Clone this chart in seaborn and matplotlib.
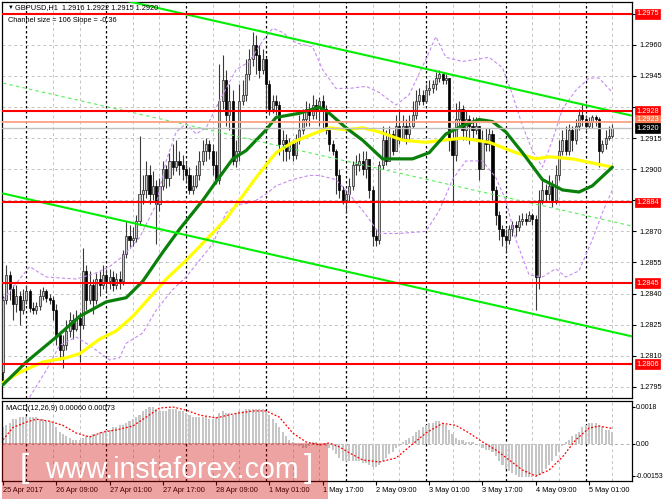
import numpy as np
import matplotlib
matplotlib.use("Agg")
import matplotlib.pyplot as plt
import matplotlib.transforms as mtransforms
from matplotlib.patches import Rectangle
import seaborn as sns

# ---------------- data ----------------
first_open = 1.2802
closes = [1.2837, 1.2849, 1.2842, 1.2835, 1.2839, 1.2832, 1.2837, 1.2841, 1.2833, 1.2832,
          1.2834, 1.2839, 1.2841, 1.2838, 1.2837, 1.2832, 1.2820, 1.2813, 1.2815, 1.2822,
          1.2827, 1.2823, 1.2828, 1.2825, 1.2851, 1.2837, 1.2844, 1.2837, 1.2847, 1.2844,
          1.2849, 1.2846, 1.2848, 1.2844, 1.2847, 1.2846, 1.2859, 1.2868, 1.2866, 1.2867,
          1.2875, 1.2888, 1.2890, 1.2897, 1.2888, 1.2892, 1.2883, 1.2892, 1.2900, 1.2896,
          1.2904, 1.2901, 1.2904, 1.2902, 1.2900, 1.2897, 1.2890, 1.2892, 1.2897, 1.2904,
          1.2909, 1.2912, 1.2909, 1.2902, 1.2895, 1.2933, 1.2943, 1.2926, 1.2933, 1.2904,
          1.2909, 1.2933, 1.2936, 1.2946, 1.2953, 1.2960, 1.2955, 1.2948, 1.2953, 1.2941,
          1.2929, 1.2933, 1.2931, 1.2912, 1.2914, 1.2909, 1.2912, 1.2907, 1.2914, 1.2919,
          1.2924, 1.2929, 1.2926, 1.2931, 1.2928, 1.2933, 1.2929, 1.2919, 1.2912, 1.2909,
          1.2897, 1.2890, 1.2885, 1.2888, 1.2892, 1.2902, 1.2902, 1.2904, 1.2900, 1.2905,
          1.2890, 1.2868, 1.2866, 1.2902, 1.2914, 1.2904, 1.2917, 1.2909, 1.2921, 1.2914,
          1.2921, 1.2917, 1.2921, 1.2926, 1.2933, 1.2936, 1.2933, 1.2938, 1.2939, 1.2941,
          1.2944, 1.2946, 1.2943, 1.2944, 1.2914, 1.2907, 1.2924, 1.2929, 1.2919, 1.2924,
          1.2921, 1.2919, 1.2921, 1.2900, 1.2914, 1.2912, 1.2917, 1.2890, 1.2878, 1.2871,
          1.2868, 1.2866, 1.2871, 1.2873, 1.2872, 1.2875, 1.2876, 1.2875, 1.2878, 1.2876,
          1.2848, 1.2885, 1.2890, 1.2888, 1.2892, 1.2885, 1.2897, 1.2909, 1.2914, 1.2909,
          1.2919, 1.2914, 1.2921, 1.2926, 1.2924, 1.2921, 1.2923, 1.2925, 1.2924, 1.2909,
          1.2912, 1.2915, 1.2916, 1.2920]
highs = [1.2839, 1.2854, 1.2851, 1.2844, 1.2844, 1.2841, 1.2842, 1.2844, 1.2842, 1.2836,
         1.2836, 1.2842, 1.2843, 1.2842, 1.2840, 1.2839, 1.2835, 1.2822, 1.2820, 1.2827,
         1.2831, 1.2830, 1.2832, 1.2831, 1.2862, 1.2854, 1.2851, 1.2847, 1.2850, 1.2851,
         1.2854, 1.2852, 1.2852, 1.2851, 1.2850, 1.2851, 1.2861, 1.2875, 1.2873, 1.2872,
         1.2878, 1.2916, 1.2897, 1.2904, 1.2902, 1.2899, 1.2895, 1.2896, 1.2904, 1.2902,
         1.2908, 1.2912, 1.2914, 1.2909, 1.2907, 1.2904, 1.2901, 1.2897, 1.2902, 1.2909,
         1.2914, 1.2915, 1.2914, 1.2912, 1.2909, 1.2951, 1.2955, 1.2948, 1.2941, 1.2938,
         1.2914, 1.2941, 1.2943, 1.2953, 1.2958, 1.2966, 1.2965, 1.2960, 1.2958, 1.2954,
         1.2943, 1.2936, 1.2936, 1.2933, 1.2919, 1.2917, 1.2915, 1.2914, 1.2917, 1.2926,
         1.2929, 1.2933, 1.2932, 1.2936, 1.2934, 1.2935, 1.2936, 1.2931, 1.2919, 1.2914,
         1.2910, 1.2900, 1.2892, 1.2890, 1.2896, 1.2904, 1.2907, 1.2908, 1.2909, 1.2909,
         1.2904, 1.2892, 1.2871, 1.2904, 1.2921, 1.2919, 1.2921, 1.2919, 1.2926, 1.2929,
         1.2926, 1.2924, 1.2926, 1.2933, 1.2938, 1.2939, 1.2938, 1.2941, 1.2943, 1.2943,
         1.2947, 1.2948, 1.2947, 1.2946, 1.2944, 1.2919, 1.2932, 1.2933, 1.2931, 1.2928,
         1.2926, 1.2925, 1.2925, 1.2921, 1.2919, 1.2920, 1.2920, 1.2919, 1.2892, 1.2880,
         1.2873, 1.2871, 1.2873, 1.2875, 1.2875, 1.2878, 1.2879, 1.2879, 1.2880, 1.2879,
         1.2878, 1.2890, 1.2896, 1.2893, 1.2897, 1.2895, 1.2902, 1.2914, 1.2919, 1.2921,
         1.2922, 1.2921, 1.2924, 1.2929, 1.2932, 1.2926, 1.2925, 1.2926, 1.2926, 1.2925,
         1.2914, 1.2919, 1.2921, 1.2922]
lows = [1.2798, 1.2835, 1.2837, 1.2827, 1.2831, 1.2825, 1.2830, 1.2835, 1.2831, 1.2830,
        1.2830, 1.2832, 1.2837, 1.2836, 1.2835, 1.2827, 1.2815, 1.2808, 1.2804, 1.2813,
        1.2819, 1.2818, 1.2822, 1.2807, 1.2823, 1.2832, 1.2835, 1.2830, 1.2835, 1.2839,
        1.2842, 1.2841, 1.2842, 1.2841, 1.2842, 1.2842, 1.2844, 1.2857, 1.2862, 1.2863,
        1.2865, 1.2873, 1.2883, 1.2886, 1.2883, 1.2885, 1.2864, 1.2880, 1.2890, 1.2891,
        1.2892, 1.2897, 1.2899, 1.2897, 1.2895, 1.2894, 1.2888, 1.2888, 1.2891, 1.2895,
        1.2902, 1.2904, 1.2905, 1.2897, 1.2893, 1.2893, 1.2929, 1.2921, 1.2919, 1.2902,
        1.2901, 1.2904, 1.2931, 1.2933, 1.2943, 1.2950, 1.2946, 1.2944, 1.2946, 1.2929,
        1.2926, 1.2927, 1.2926, 1.2907, 1.2904, 1.2904, 1.2905, 1.2904, 1.2905, 1.2912,
        1.2917, 1.2921, 1.2921, 1.2924, 1.2924, 1.2921, 1.2919, 1.2917, 1.2909, 1.2907,
        1.2888, 1.2886, 1.2883, 1.2879, 1.2884, 1.2890, 1.2897, 1.2899, 1.2897, 1.2896,
        1.2886, 1.2863, 1.2863, 1.2864, 1.2900, 1.2902, 1.2904, 1.2907, 1.2909, 1.2912,
        1.2914, 1.2912, 1.2914, 1.2920, 1.2924, 1.2931, 1.2931, 1.2932, 1.2936, 1.2937,
        1.2938, 1.2942, 1.2941, 1.2941, 1.2909, 1.2884, 1.2904, 1.2921, 1.2914, 1.2914,
        1.2912, 1.2915, 1.2917, 1.2895, 1.2900, 1.2909, 1.2909, 1.2885, 1.2873, 1.2866,
        1.2863, 1.2860, 1.2864, 1.2868, 1.2868, 1.2870, 1.2873, 1.2873, 1.2875, 1.2873,
        1.2832, 1.2842, 1.2883, 1.2884, 1.2885, 1.2882, 1.2883, 1.2895, 1.2907, 1.2907,
        1.2907, 1.2909, 1.2912, 1.2919, 1.2921, 1.2919, 1.2920, 1.2920, 1.2921, 1.2901,
        1.2908, 1.2910, 1.2914, 1.2915]

# moving averages (bar index, price)
green_ma_x = [0, 7, 16, 23, 31, 37, 42, 48, 53, 60, 64, 69, 73, 79, 82, 89, 95, 98, 103, 108,
              114, 123, 128, 133, 138, 143, 147, 151, 156, 162, 168, 173, 177, 183]
green_ma = [1.2796, 1.2807, 1.2819, 1.2829, 1.2836, 1.2838, 1.2846, 1.2860, 1.2871, 1.2885,
            1.2894, 1.2905, 1.2909, 1.2919, 1.2925, 1.2927, 1.2930, 1.2927, 1.2920, 1.2914,
            1.2905, 1.2905, 1.2908, 1.2917, 1.2921, 1.2924, 1.2923, 1.2918, 1.2908, 1.2895,
            1.2890, 1.2889, 1.2892, 1.2901]
yellow_ma_x = [0, 5, 12, 19, 23, 29, 34, 39, 44, 49, 55, 61, 67, 71, 76, 82, 87, 93, 98, 103,
               108, 113, 120, 127, 132, 138, 146, 154, 160, 164, 171, 177, 183]
yellow_ma = [1.2797, 1.2802, 1.2807, 1.2809, 1.2811, 1.2818, 1.2822, 1.2829, 1.2838, 1.2847,
             1.2856, 1.2866, 1.2876, 1.2885, 1.2896, 1.2908, 1.2913, 1.2917, 1.2920, 1.2919,
             1.2920, 1.2918, 1.2914, 1.2913, 1.2914, 1.2915, 1.2913, 1.2908, 1.2905, 1.2906,
             1.2905, 1.2903, 1.2901]

# Bollinger bands
upper_band_x = [0, 8, 13, 22, 28, 32, 36, 41, 46, 49, 52, 55, 58, 61, 65, 70, 74, 78, 81, 84,
                88, 93, 96, 100, 104, 109, 113, 118, 122, 127, 130, 133, 138, 146, 150, 153,
                156, 159, 162, 165, 168, 172, 176, 179, 183]
upper_band = [1.2837, 1.2853, 1.2848, 1.2847, 1.2850, 1.2853, 1.2858, 1.2867, 1.2883, 1.2904,
              1.2918, 1.2922, 1.2917, 1.2920, 1.2933, 1.2948, 1.2952, 1.2962, 1.2968, 1.2966,
              1.2961, 1.2959, 1.2948, 1.2939, 1.2939, 1.2940, 1.2937, 1.2931, 1.2936, 1.2953,
              1.2964, 1.2954, 1.2952, 1.2954, 1.2949, 1.2936, 1.2921, 1.2909, 1.2901, 1.2914,
              1.2929, 1.2938, 1.2944, 1.2944, 1.2937]
lower_band_x = [8, 13, 17, 22, 26, 32, 35, 37, 42, 46, 51, 55, 59, 63, 67, 71, 75, 79, 82, 87,
                92, 95, 100, 104, 109, 113, 119, 127, 131, 135, 139, 144, 148, 151, 154, 158,
                162, 166, 169, 173, 177, 180, 183]
lower_band = [1.2790, 1.2803, 1.2815, 1.2819, 1.2815, 1.2808, 1.2809, 1.2816, 1.2821, 1.2832,
              1.2842, 1.2848, 1.2856, 1.2864, 1.2879, 1.2883, 1.2884, 1.2888, 1.2892, 1.2895,
              1.2897, 1.2897, 1.2895, 1.2888, 1.2878, 1.2869, 1.2869, 1.2870, 1.2880, 1.2895,
              1.2904, 1.2904, 1.2896, 1.2885, 1.2866, 1.2849, 1.2848, 1.2852, 1.2848, 1.2851,
              1.2866, 1.2879, 1.2890]

# regression channel
channel_x = [0, 189]
channel_upper = [1.29948, 1.29258]
channel_mid = [1.294155, 1.287255]
channel_lower = [1.28883, 1.28193]

# horizontal levels
red_levels = [1.2975, 1.2928, 1.2884, 1.2845, 1.2806]
ask_level = 1.2923
bid_level = 1.2920
price_ticks = [1.2795, 1.2810, 1.2825, 1.2840, 1.2855, 1.2870, 1.2885, 1.2900,
               1.2915, 1.2930, 1.2945, 1.2960, 1.2975]
hidden_ticks = [1.2885, 1.2930, 1.2975]

# MACD
macd_hist = [0.0008, 0.0009,
             0.0010, 0.0012, 0.0012, 0.0013,
             0.0013, 0.0013, 0.0013, 0.0013, 0.0013,
             0.0012, 0.0012, 0.0011, 0.0011, 0.0010,
             0.0008, 0.0006, 0.0005, 0.0004,
             0.0003, 0.0002, 0.0002, 0.0002, 0.0003,
             0.0004, 0.0004, 0.0005, 0.0005, 0.0006,
             0.0006, 0.0007, 0.0007, 0.0008, 0.0008, 0.0009, 0.0009, 0.0010,
             0.0011, 0.0012, 0.0013, 0.0014,
             0.0016, 0.0017, 0.0018, 0.0018, 0.0017,
             0.0016, 0.0016, 0.0016, 0.0017, 0.0017, 0.0017, 0.0016, 0.0016, 0.0015, 0.0014,
             0.0013, 0.0013, 0.0013, 0.0013, 0.0013, 0.0012, 0.0012,
             0.0013, 0.0015, 0.0016, 0.0015, 0.0015,
             0.0014, 0.0015, 0.0016, 0.0016, 0.0017, 0.0017, 0.0017, 0.0017, 0.0017, 0.0017, 0.0016,
             0.0014, 0.0012, 0.0010, 0.0008, 0.0006, 0.0004,
             0.0002, 0.0001, 0.0000,
             -0.0001, -0.0002, -0.0002, -0.0001,
             0.0001, 0.0001, 0.0000, 0.0000, -0.0001, -0.0002,
             -0.0003, -0.0005, -0.0007, -0.0008,
             -0.0008, -0.0008, -0.0008, -0.0008, -0.0008, -0.0009, -0.0009, -0.0010,
             -0.0011, -0.0011, -0.0010,
             -0.0008, -0.0007, -0.0005, -0.0004, -0.0002, -0.0001,
             0.0001, 0.0002, 0.0003, 0.0004, 0.0006, 0.0007, 0.0008,
             0.0009, 0.0010, 0.0010, 0.0011, 0.0011, 0.0010,
             0.0009, 0.0007, 0.0005, 0.0003,
             0.0002, 0.0002, 0.0001, 0.0001, 0.0001, 0.0000, 0.0000,
             -0.0002, -0.0003, -0.0003, -0.0004, -0.0006,
             -0.0008, -0.0010, -0.0012, -0.0013, -0.0014, -0.0015,
             -0.0016, -0.0016, -0.0016, -0.0016, -0.0016, -0.0016, -0.0015, -0.0014,
             -0.0012, -0.0010, -0.0008, -0.0006, -0.0004,
             -0.0001, 0.0001, 0.0002,
             0.0004, 0.0005, 0.0006, 0.0008, 0.0009, 0.0010, 0.0010,
             0.0010, 0.0009, 0.0008, 0.0007, 0.0007, 0.0006]
signal_x = [0, 3, 7, 10, 14, 18, 22, 26, 30, 34, 39, 43, 47, 51, 55, 59, 64, 69, 75, 79, 83,
            87, 91, 95, 98, 101, 104, 108, 113, 118, 122, 127, 132, 136, 140, 144, 148, 152,
            156, 160, 164, 168, 172, 176, 179, 183]
signal = [0.0002, 0.0008, 0.00106, 0.0012, 0.0011, 0.0009, 0.00053, 0.00034, 0.00058, 0.00068,
          0.00087, 0.0013, 0.00174, 0.00179, 0.00164, 0.0014, 0.00126, 0.00145, 0.0016, 0.0016,
          0.0013, 0.00053, 0.0001, -0.00005, 0.00005, -0.00014, -0.00043, -0.00077, -0.00087,
          -0.00068, -0.00014, 0.00053, 0.0010, 0.0009, 0.00053, 0.0001, -0.00029, -0.00077,
          -0.00126, -0.00155, -0.00126, -0.00063, 0.0002, 0.00077, 0.00087, 0.00075]
macd_ticks = [0.0018, 0.0, -0.00153]
macd_tick_labels = ["0.0018", "0.00", "-0.00153"]

# time axis
label_bars = [0, 16, 32, 48, 64, 80, 96, 112, 128, 144, 160, 176]
time_labels = ["25 Apr 2017", "26 Apr 09:00", "27 Apr 01:00", "27 Apr 17:00", "28 Apr 09:00",
               "1 May 01:00", "1 May 17:00", "2 May 09:00", "3 May 01:00", "3 May 17:00",
               "4 May 09:00", "5 May 01:00"]
first_separator_bar = 7
bars_per_day = 24
grid_step = 8

header = "GBPUSD,H1  1.2916 1.2922 1.2915 1.2920"
channel_text = "Channel size = 106 Slope = -0.36"
macd_text = "MACD(12,26,9) 0.00060 0.00073"

# ---------------- drawing ----------------
sns.set_theme(style="white")
plt.rcParams['font.family'] = ['Liberation Sans', 'DejaVu Sans']
plt.rcParams['axes.linewidth'] = 0.9

W, H = 665, 499
fig = plt.figure(figsize=(W / 100, H / 100), dpi=100)
fig.patch.set_facecolor('white')


def fx(px):
    return px / W


def fy(py):
    return 1 - py / H


ax = fig.add_axes([fx(2), fy(398), (632 - 2) / W, (398 - 2) / H])
axm = fig.add_axes([fx(2), fy(481), (632 - 2) / W, (481 - 401) / H])

n = len(closes)
xs = np.arange(n)
opens = np.array([first_open] + closes[:-1])
cl = np.array(closes)
hi = np.maximum(np.array(highs), np.maximum(opens, cl))
lo = np.minimum(np.array(lows), np.minimum(opens, cl))

FS = 5.3
xlim = (-0.3, 188.9)

for a in (ax, axm):
    a.set_xlim(*xlim)
    a.set_facecolor('white')
    for s in a.spines.values():
        s.set_color('black')
        s.set_linewidth(0.9)
    b = first_separator_bar
    while b < xlim[1]:
        if (b - first_separator_bar) % bars_per_day == 0:
            a.axvline(b, color='black', lw=0.9, ls=(0, (2, 2)), zorder=0.6)
        else:
            a.axvline(b, color='#c4c4c4', lw=0.7, ls=(0, (3, 3)), zorder=0.5)
        b += grid_step

# main panel
ax.set_ylim(1.27896, 1.29807)
for t in price_ticks:
    ax.axhline(t, color='#c4c4c4', lw=0.7, ls=(0, (3, 3)), zorder=0.5)

# bollinger bands
sns.lineplot(x=upper_band_x, y=upper_band, ax=ax, color='#c58cf0', lw=0.8,
             linestyle=(0, (3, 2)), zorder=4)
sns.lineplot(x=lower_band_x, y=lower_band, ax=ax, color='#c58cf0', lw=0.8,
             linestyle=(0, (3, 2)), zorder=4)

# candles
up = cl >= opens
ax.vlines(xs, lo, hi, color='#3a3a3a', lw=0.8, zorder=3)
body_bottom = np.minimum(opens, cl)
body_h = np.maximum(np.abs(cl - opens), 0.00003)
ax.bar(xs[up], body_h[up], bottom=body_bottom[up], width=0.62, color='#c8c8c8',
       edgecolor='#202020', linewidth=0.5, zorder=3.2)
ax.bar(xs[~up], body_h[~up], bottom=body_bottom[~up], width=0.62, color='black',
       edgecolor='black', linewidth=0.5, zorder=3.2)

# moving averages
sns.lineplot(x=yellow_ma_x, y=yellow_ma, ax=ax, color='#ffff00', lw=2.3, zorder=4.5)
sns.lineplot(x=green_ma_x, y=green_ma, ax=ax, color='#0a800a', lw=2.3, zorder=4.6)

# channel
sns.lineplot(x=channel_x, y=channel_upper, ax=ax, color='#00ee00', lw=1.5, zorder=5)
sns.lineplot(x=channel_x, y=channel_lower, ax=ax, color='#00ee00', lw=1.5, zorder=5)
sns.lineplot(x=channel_x, y=channel_mid, ax=ax, color='#55ee55', lw=0.8,
             linestyle=(0, (3, 3)), zorder=5)

# horizontal levels
for lv in red_levels:
    ax.axhline(lv, color='#ff0000', lw=1.5, zorder=6)
ax.axhline(ask_level, color='#ffa080', lw=1.3, zorder=5.9)
ax.axhline(bid_level, color='#c0c0c0', lw=1.0, zorder=5.8)

ax.set_xticks([])
ax.yaxis.tick_right()
ax.set_yticks(price_ticks)
ax.set_yticklabels(['' if t in hidden_ticks else f"{t:.4f}" for t in price_ticks])
ax.tick_params(axis='y', which='both', right=True, length=3, width=0.8, pad=2,
               labelsize=FS, colors='black')
ax.set_xlabel('')
ax.set_ylabel('')

trans = mtransforms.blended_transform_factory(ax.transAxes, ax.transData)
boxes = [(lv, '#ff0000', 0) for lv in red_levels] + [(ask_level, '#ff7a50', 2.0),
                                                     (bid_level, 'black', -0.5)]
for lv, col, dy in boxes:
    tr = mtransforms.offset_copy(trans, fig=fig, x=0, y=dy, units='dots')
    ax.text(1.0 + 4 / 630, lv, f"{lv:.4f}", transform=tr, ha='left', va='center',
            fontsize=FS, color='white', clip_on=False, zorder=10,
            bbox=dict(boxstyle='square,pad=0.18', fc=col, ec=col, lw=0.5))

# MACD panel
axm.set_ylim(-0.00179, 0.00208)
axm.axhline(0, color='#b0b0b0', lw=0.7, ls=(0, (3, 3)), zorder=0.5)
axm.bar(xs, macd_hist, width=0.62, color='#c6c6c6', linewidth=0, zorder=2)
sns.lineplot(x=signal_x, y=signal, ax=axm, color='#ff0000', lw=0.9,
             linestyle=(0, (1.5, 1.5)), zorder=3)
axm.yaxis.tick_right()
axm.set_yticks(macd_ticks)
axm.set_yticklabels(macd_tick_labels)
axm.tick_params(axis='y', right=True, length=2, width=0.8, pad=1, labelsize=5.0,
                colors='black')
axm.set_xticks(label_bars)
axm.set_xticklabels(time_labels, ha='left')
axm.tick_params(axis='x', bottom=True, length=3, width=0.8, pad=1.5, labelsize=FS,
                colors='black')
axm.set_xlabel('')
axm.set_ylabel('')

# header texts
fig.text(fx(7.5), fy(7.5), "\u25bc", fontsize=4.2, va='center', ha='left', color='black')
fig.text(fx(15), fy(7.5), header, fontsize=FS, va='center', ha='left', color='black')
fig.text(fx(8), fy(20), channel_text, fontsize=FS, va='center', ha='left', color='black')
fig.text(fx(6), fy(408), macd_text, fontsize=FS, va='center', ha='left', color='black',
         zorder=10)

# watermark
wm = Rectangle((fx(2), 0), (328 - 2) / W, (499 - 443) / H, transform=fig.transFigure,
               facecolor=(0.82, 0.0, 0.0), alpha=0.36, edgecolor='none', zorder=20)
fig.add_artist(wm)
t_main = fig.text(fx(45), fy(470), "www.instaforex.com", fontsize=22, color='white',
                  va='center', ha='left', zorder=21)
fig.text(fx(20), fy(469), "[", fontsize=24, color='white', va='center', ha='left', zorder=21)
fig.text(fx(304), fy(469), "]", fontsize=24, color='white', va='center', ha='left', zorder=21)
fig.canvas.draw()
bb = t_main.get_window_extent()
t_main.set_fontsize(22 * 253.0 / bb.width)

fig.savefig("out.png", dpi=100, facecolor='white')
